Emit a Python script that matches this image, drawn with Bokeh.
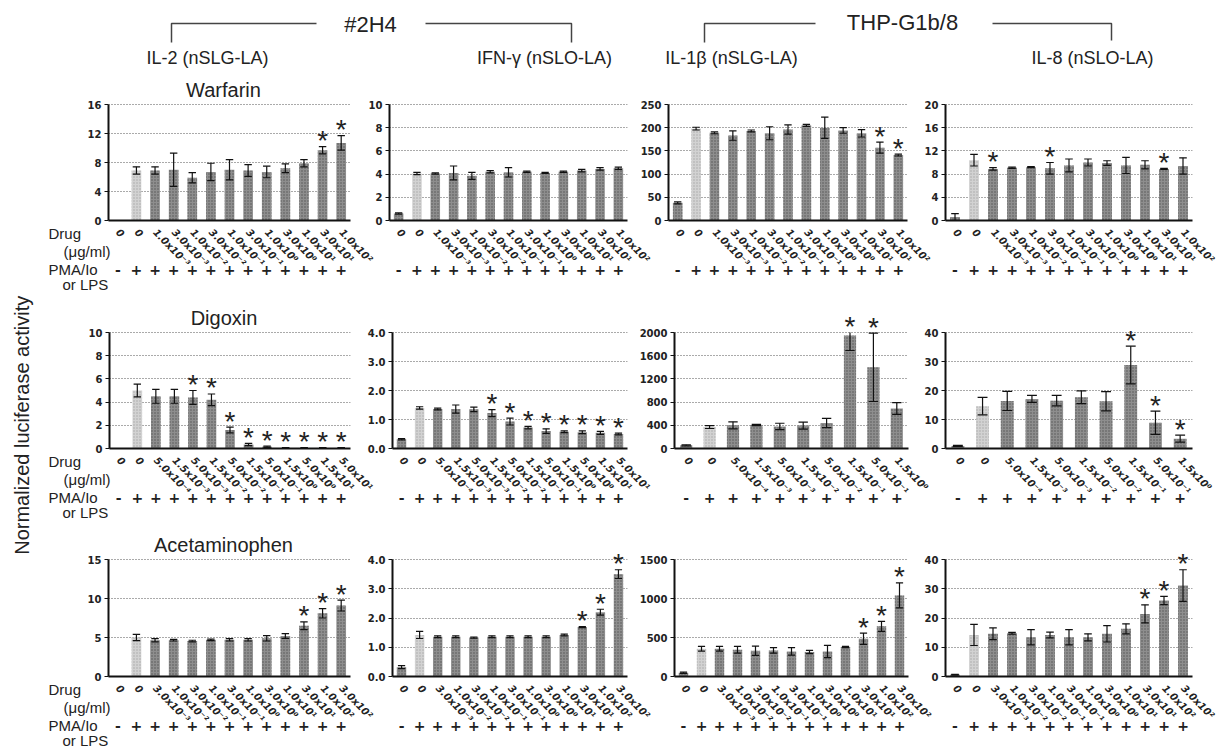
import math
from bokeh.plotting import figure
from bokeh.models import Range1d, FixedTicker, Label, LinearAxis, ColumnDataSource
from bokeh.layouts import row, column
from bokeh.embed import file_html
from bokeh.resources import INLINE
from bokeh.core.properties import value

# ---------------- data ----------------
cell_lines = ["#2H4", "THP-G1b/8"]
reporters = ["IL-2 (nSLG-LA)", "IFN-γ (nSLO-LA)", "IL-1β (nSLG-LA)", "IL-8 (nSLO-LA)"]
drugs = ["Warfarin", "Digoxin", "Acetaminophen"]
side_labels = ["Drug", "(μg/ml)", "PMA/Io", "or LPS"]
y_title = "Normalized  luciferase activity"

warfarin_doses = ["0", "0", "1.0x10⁻³", "3.0x10⁻³", "1.0x10⁻²", "3.0x10⁻²", "1.0x10⁻¹",
                  "3.0x10⁻¹", "1.0x10⁰", "3.0x10⁰", "1.0x10¹", "3.0x10¹", "1.0x10²"]
digoxin_doses = ["0", "0", "5.0x10⁻⁴", "1.5x10⁻³", "5.0x10⁻³", "1.5x10⁻²", "5.0x10⁻²",
                 "1.5x10⁻¹", "5.0x10⁻¹", "1.5x10⁰", "5.0x10⁰", "1.5x10¹", "5.0x10¹"]
digoxin_doses_short = ["0", "0", "5.0x10⁻⁴", "1.5x10⁻³", "5.0x10⁻³", "1.5x10⁻²", "5.0x10⁻²",
                       "1.5x10⁻¹", "5.0x10⁻¹", "1.5x10⁰"]
acetaminophen_doses = ["0", "0", "3.0x10⁻³", "1.0x10⁻²", "3.0x10⁻²", "1.0x10⁻¹", "3.0x10⁻¹",
                       "1.0x10⁰", "3.0x10⁰", "1.0x10¹", "3.0x10¹", "1.0x10²", "3.0x10²"]
stim_13 = ["-", "+", "+", "+", "+", "+", "+", "+", "+", "+", "+", "+", "+"]
stim_10 = ["-", "+", "+", "+", "+", "+", "+", "+", "+", "+"]

# Warfarin row
il2_warf_mean = [0, 6.9, 6.9, 7.0, 5.9, 6.7, 7.0, 6.9, 6.7, 7.2, 7.9, 9.7, 10.7]
il2_warf_err = [0, 0.5, 0.5, 2.3, 0.7, 1.2, 1.4, 0.8, 0.8, 0.6, 0.5, 0.5, 1.0]
il2_warf_sig = [11, 12]
ifn_warf_mean = [0.6, 4.05, 4.05, 4.1, 3.85, 4.2, 4.15, 4.2, 4.1, 4.2, 4.3, 4.45, 4.5]
ifn_warf_err = [0.05, 0.1, 0.05, 0.6, 0.3, 0.1, 0.4, 0.05, 0.05, 0.05, 0.1, 0.1, 0.1]
ifn_warf_sig = []
il1b_warf_mean = [38, 198, 189, 183, 193, 188, 196, 205, 200, 194, 188, 157, 141]
il1b_warf_err = [2, 3, 2, 10, 2, 14, 10, 2, 23, 6, 8, 12, 2]
il1b_warf_sig = [11, 12]
il8_warf_mean = [0.6, 10.4, 8.9, 9.1, 9.2, 9.0, 9.5, 10.0, 9.9, 9.5, 9.6, 8.9, 9.4]
il8_warf_err = [0.6, 1.0, 0.2, 0.1, 0.1, 1.0, 1.1, 0.6, 0.4, 1.4, 0.7, 0.1, 1.4]
il8_warf_sig = [2, 5, 11]

# Digoxin row
il2_dig_mean = [0, 5.0, 4.5, 4.5, 4.4, 4.2, 1.6, 0.35, 0.15, 0.05, 0.05, 0.05, 0.05]
il2_dig_err = [0, 0.55, 0.6, 0.6, 0.6, 0.5, 0.25, 0.1, 0.05, 0.02, 0.02, 0.02, 0.02]
il2_dig_sig = [4, 5, 6, 7, 8, 9, 10, 11, 12]
ifn_dig_mean = [0.32, 1.40, 1.36, 1.36, 1.35, 1.22, 0.93, 0.72, 0.60, 0.58, 0.56, 0.54, 0.50]
ifn_dig_err = [0.02, 0.04, 0.03, 0.14, 0.08, 0.12, 0.12, 0.04, 0.08, 0.03, 0.05, 0.05, 0.03]
ifn_dig_sig = [5, 6, 7, 8, 9, 10, 11, 12]
il1b_dig_mean = [55, 370, 400, 405, 380, 395, 440, 1950, 1400, 690]
il1b_dig_err = [10, 25, 60, 10, 55, 60, 80, 260, 590, 100]
il1b_dig_sig = [7, 8]
il8_dig_mean = [0.9, 14.6, 16.4, 17.1, 16.5, 17.7, 16.3, 28.8, 8.9, 3.4]
il8_dig_err = [0.2, 3.0, 3.3, 1.2, 1.8, 2.2, 3.3, 6.5, 4.0, 1.2]
il8_dig_sig = [7, 8, 9]

# Acetaminophen row
il2_acet_mean = [0, 5.0, 4.65, 4.65, 4.55, 4.7, 4.7, 4.7, 4.9, 5.2, 6.5, 8.1, 9.1]
il2_acet_err = [0, 0.4, 0.2, 0.1, 0.1, 0.1, 0.15, 0.15, 0.35, 0.3, 0.5, 0.6, 0.7]
il2_acet_sig = [10, 11, 12]
ifn_acet_mean = [0.32, 1.42, 1.36, 1.36, 1.33, 1.36, 1.36, 1.36, 1.36, 1.42, 1.69, 2.2, 3.5]
ifn_acet_err = [0.05, 0.12, 0.03, 0.03, 0.02, 0.03, 0.03, 0.03, 0.03, 0.03, 0.02, 0.1, 0.15]
ifn_acet_sig = [10, 11, 12]
il1b_acet_mean = [47, 356, 356, 343, 330, 334, 321, 313, 321, 377, 484, 643, 1040]
il1b_acet_err = [8, 30, 30, 43, 60, 35, 48, 21, 78, 8, 73, 64, 160]
il1b_acet_sig = [10, 11, 12]
il8_acet_mean = [0.6, 14.2, 14.6, 14.8, 13.4, 14.2, 13.4, 13.4, 14.6, 16.3, 21.4, 26.0, 31.1]
il8_acet_err = [0.1, 3.6, 2.0, 0.3, 2.6, 1.0, 2.6, 1.2, 2.8, 1.7, 3.1, 1.4, 5.4]
il8_acet_sig = [10, 11, 12]

# y-axis ticks
ticks_16 = [0, 4, 8, 12, 16]
ticks_10 = [0, 2, 4, 6, 8, 10]
ticks_250 = [0, 50, 100, 150, 200, 250]
ticks_20 = [0, 4, 8, 12, 16, 20]
ticks_4 = [0, 1, 2, 3, 4]
labels_4 = ["0.0", "1.0", "2.0", "3.0", "4.0"]
ticks_2000 = [0, 400, 800, 1200, 1600, 2000]
ticks_40 = [0, 10, 20, 30, 40]
ticks_15 = [0, 5, 10, 15]
ticks_1500 = [0, 500, 1000, 1500]

control_index = 1

# ---------------- layout geometry (page pixels) ----------------
HEADER_H = 70
# fig_top, fig_bottom, data_top (y max), data_bottom (y = 0)
ROWS = [(70, 300, 104, 220), (300, 528, 332, 448), (528, 750, 559, 676)]
COL_FIG = [(36, 385), (355, 665), (632, 945), (912, 1221)]
FRAME_X = [
    [(108, 350), (389, 627), (668, 907), (945, 1192)],
    [(109, 350), (392, 627), (674, 908), (945, 1192)],
    [(108, 350), (392, 627), (674, 908), (945, 1192)],
]
LEFT_W = 84
SANS = "Liberation Sans"
TICKF = "DejaVu Sans"


def bare_figure(w, h, xr, yr):
    q = figure(width=w, height=h, x_range=xr, y_range=yr, min_border=0,
               x_axis_location=None, y_axis_location=None, frame_align=False,
               output_backend="svg", toolbar_location=None, tools="")
    q.outline_line_color = None
    q.grid.visible = False
    q.background_fill_color = None
    q.border_fill_color = None
    return q


def make_panel(r, c, doses, stim, mean, err, sig, yticks, ylabels=None):
    n = len(mean)
    fl, fr = COL_FIG[c]
    xl, xr = FRAME_X[r][c]
    ft, fb, yt, yb = ROWS[r]
    ymax = yticks[-1]
    ytop = ymax * (yb - ft) / (yb - yt)
    p = figure(width=fr - fl, height=fb - ft,
               x_range=Range1d(0.5, n + 0.5), y_range=Range1d(0, ytop),
               min_border_left=xl - fl, min_border_right=fr - xr,
               min_border_top=0, min_border_bottom=fb - yb, frame_align=False,
               output_backend="svg", toolbar_location=None, tools="")
    if c > 0:
        p.margin = (0, 0, 0, -(COL_FIG[c - 1][1] - fl))
    else:
        p.margin = (0, 0, 0, -LEFT_W)
    p.outline_line_color = None
    p.background_fill_color = None
    p.border_fill_color = None
    p.xgrid.visible = False
    p.ygrid.ticker = FixedTicker(ticks=yticks)
    p.ygrid.grid_line_dash = "1 2"
    p.ygrid.grid_line_color = "#555555"
    p.ygrid.grid_line_width = 1

    xs = list(range(1, n + 1))
    xa = p.xaxis[0]
    xa.ticker = FixedTicker(ticks=xs)
    xa.major_label_overrides = {i + 1: d for i, d in enumerate(doses)}
    xa.major_label_orientation = -0.8
    xa.major_tick_line_color = None
    xa.minor_tick_line_color = None
    xa.axis_line_width = 2
    xa.axis_line_color = "#111111"
    xa.major_label_text_font = TICKF
    xa.major_label_text_font_size = "10px"
    xa.major_label_text_font_style = "bold italic"
    xa.major_label_text_color = "#222222"
    xa.major_label_standoff = 4

    sa = LinearAxis(ticker=FixedTicker(ticks=xs),
                    major_label_overrides={i + 1: s for i, s in enumerate(stim)},
                    axis_line_color=None, major_tick_line_color=None,
                    minor_tick_line_color=None, major_label_standoff=-17,
                    major_label_text_font=TICKF, major_label_text_font_size="14px",
                    major_label_text_font_style="bold", major_label_text_color="#222222")
    p.add_layout(sa, "below")

    ya = p.yaxis[0]
    ya.ticker = FixedTicker(ticks=yticks)
    ya.bounds = (0, ymax)
    if ylabels is not None:
        ya.major_label_overrides = {t: l for t, l in zip(yticks, ylabels)}
    ya.minor_tick_line_color = None
    ya.major_tick_in = 0
    ya.major_tick_out = 4
    ya.axis_line_width = 2
    ya.axis_line_color = "#111111"
    ya.major_tick_line_color = "#111111"
    ya.major_label_text_font = TICKF
    ya.major_label_text_font_size = "10px"
    ya.major_label_text_font_style = "bold"
    ya.major_label_text_color = "#222222"
    ya.major_label_standoff = 3

    colors = ["#d2d2d2" if i == control_index else "#8e8e8e" for i in range(n)]
    hcolors = ["#a8a8a8" if i == control_index else "#555555" for i in range(n)]
    src = ColumnDataSource(dict(x=xs, top=mean, color=colors, hatch=hcolors))
    p.vbar(x="x", top="top", width=0.52, source=src, fill_color="color", line_color=None,
           hatch_pattern="dot", hatch_color="hatch", hatch_scale=3, hatch_weight=1)

    idx = [i for i in range(n) if err[i] > 0]
    ex = [xs[i] for i in idx]
    lo = [mean[i] - err[i] for i in idx]
    hi = [min(mean[i] + err[i], ymax) for i in idx]
    esrc = ColumnDataSource(dict(x=ex, lo=lo, hi=hi,
                                 cl=[v - 0.2 for v in ex], cr=[v + 0.2 for v in ex]))
    p.segment(x0="x", y0="lo", x1="x", y1="hi", source=esrc, line_color="#111111", line_width=1.2)
    p.segment(x0="cl", y0="lo", x1="cr", y1="lo", source=esrc, line_color="#111111", line_width=1.2)
    cidx = [i for i in idx if mean[i] + err[i] <= ymax]
    csrc = ColumnDataSource(dict(cl=[xs[i] - 0.2 for i in cidx], cr=[xs[i] + 0.2 for i in cidx],
                                 hi=[mean[i] + err[i] for i in cidx]))
    p.segment(x0="cl", y0="hi", x1="cr", y1="hi", source=csrc, line_color="#111111", line_width=1.2)

    if sig:
        ssrc = ColumnDataSource(dict(x=[xs[i] for i in sig],
                                     y=[min(mean[i] + err[i], ymax) for i in sig],
                                     t=["*" for _ in sig]))
        p.text(x="x", y="y", text="t", source=ssrc, text_align="center",
               text_baseline="alphabetic", y_offset=-6, text_font=value(SANS),
               text_font_size=value("28px"), text_color="#222222")

    if c == 0:
        p.add_layout(Label(x=(xr - xl) / 2 - 6, y=(yb - yt) + 15, x_units="screen", y_units="screen",
                           text=drugs[r], text_align="center", text_baseline="middle",
                           text_font=SANS, text_font_size="20px", text_color="#222222"))
    return p


def make_left(r):
    ft, fb, yt, yb = ROWS[r]
    q = bare_figure(LEFT_W, fb - ft, Range1d(36, 36 + LEFT_W), Range1d(fb, ft))
    q.text(x=[48, 63, 48, 62], y=[yb + 13, yb + 31, yb + 49, yb + 64], text=side_labels,
           text_align="left", text_baseline="middle", text_font=value(SANS),
           text_font_size=value("15px"), text_color="#222222")
    return q


row1 = [
    make_left(0),
    make_panel(0, 0, warfarin_doses, stim_13, il2_warf_mean, il2_warf_err, il2_warf_sig, ticks_16),
    make_panel(0, 1, warfarin_doses, stim_13, ifn_warf_mean, ifn_warf_err, ifn_warf_sig, ticks_10),
    make_panel(0, 2, warfarin_doses, stim_13, il1b_warf_mean, il1b_warf_err, il1b_warf_sig, ticks_250),
    make_panel(0, 3, warfarin_doses, stim_13, il8_warf_mean, il8_warf_err, il8_warf_sig, ticks_20),
]
row2 = [
    make_left(1),
    make_panel(1, 0, digoxin_doses, stim_13, il2_dig_mean, il2_dig_err, il2_dig_sig, ticks_10),
    make_panel(1, 1, digoxin_doses, stim_13, ifn_dig_mean, ifn_dig_err, ifn_dig_sig, ticks_4, labels_4),
    make_panel(1, 2, digoxin_doses_short, stim_10, il1b_dig_mean, il1b_dig_err, il1b_dig_sig, ticks_2000),
    make_panel(1, 3, digoxin_doses_short, stim_10, il8_dig_mean, il8_dig_err, il8_dig_sig, ticks_40),
]
row3 = [
    make_left(2),
    make_panel(2, 0, acetaminophen_doses, stim_13, il2_acet_mean, il2_acet_err, il2_acet_sig, ticks_15),
    make_panel(2, 1, acetaminophen_doses, stim_13, ifn_acet_mean, ifn_acet_err, ifn_acet_sig, ticks_4, labels_4),
    make_panel(2, 2, acetaminophen_doses, stim_13, il1b_acet_mean, il1b_acet_err, il1b_acet_sig, ticks_1500),
    make_panel(2, 3, acetaminophen_doses, stim_13, il8_acet_mean, il8_acet_err, il8_acet_sig, ticks_40),
]

# ---------------- header ----------------
hdr = bare_figure(1185, HEADER_H, Range1d(36, 1221), Range1d(HEADER_H, 0))
hdr.multi_line(xs=[[171, 171, 316], [425, 571, 571], [704, 704, 815], [992, 1111, 1111]],
               ys=[[42, 23, 23], [23, 23, 42], [42, 23, 23], [23, 23, 40]],
               line_color="#444444", line_width=1.5)
hdr.text(x=[370, 902], y=[24, 22], text=cell_lines, text_align="center", text_baseline="middle",
         text_font=value(SANS), text_font_size=value("22px"), text_color="#222222")
hdr.text(x=[207, 544, 731, 1092], y=[57, 57, 57, 57], text=reporters, text_align="center",
         text_baseline="middle", text_font=value(SANS), text_font_size=value("18px"),
         text_color="#222222")

# ---------------- y label ----------------
yl = bare_figure(36, 750, Range1d(0, 36), Range1d(0, 750))
yl.text(x=[21], y=[750 - 422], text=[y_title], angle=math.pi / 2,
        text_align="center", text_baseline="middle", text_font=value(SANS),
        text_font_size=value("20px"), text_color="#222222")

p = row(yl, column(hdr, row(*row1), row(*row2), row(*row3)))
open("out.html", "w").write(file_html(p, INLINE))
